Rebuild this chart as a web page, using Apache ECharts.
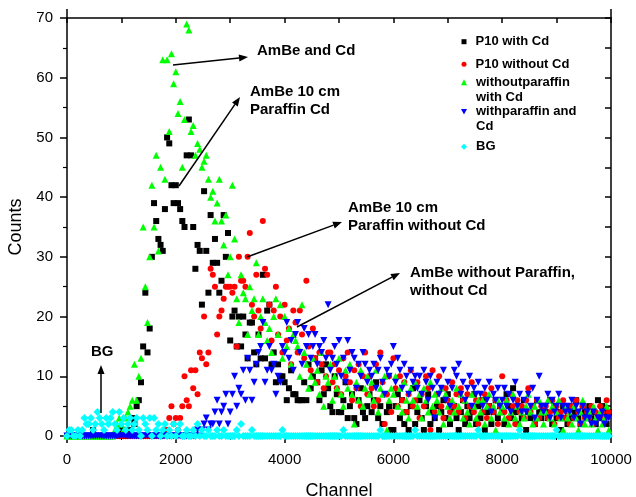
<!DOCTYPE html>
<html>
<head>
<meta charset="utf-8">
<script src="https://cdn.jsdelivr.net/npm/echarts@6/dist/echarts.min.js"></script>
<style>html,body{margin:0;padding:0;background:#fff;}#c{width:636px;height:497px;}</style>
</head>
<body>
<div id="c"></div>
<script>
// channel bin width of the spectra (channels 0, 40, 80, ... 9960)
const BIN = 40;
const xTicks = [0, 2000, 4000, 6000, 8000, 10000];
const yTicks = [0, 10, 20, 30, 40, 50, 60, 70];
const seriesNames = ['P10 with Cd', 'P10 without Cd', 'withoutparaffin\nwith Cd', 'withparaffin and\nCd', 'BG'];

const p10WithCd = [
 0,0,0,0,0,0,0,0,0,0, 0,0,1,0,0,0,0,0,0,0, 0,0,0,0,0,1,1,0,0,1, 3,2,5,6,9,15,24,14,18,30,
 39,36,33,32,31,38,50,49,42,39, 42,39,38,36,35,47,53,47,35,28, 32,31,22,41,31,24,37,29,33,29,
 24,26,37,30,34,16,20,21,15,20, 15,20,17,13,19,19,14,12,17,13, 27,13,21,22,12,14,9,12,10,10,
 9,6,8,11,7,7,6,6,6,9, 6,12,8,10,13,9,6,11,7,12, 8,5,4,10,7,4,4,6,9,3, 5,7,3,2,6,8,4,3,5,7,
 4,6,9,3,5,2,7,4,5,1, 1,5,7,3,6,2,4,1,5,8, 2,4,6,3,1,5,7,2,4,3, 5,1,4,6,3,7,2,4,5,3,
 1,4,6,2,5,3,4,7,2,5, 3,6,1,4,5,2,4,6,3,5, 4,2,7,5,3,8,4,2,5,3, 6,1,4,3,5,2,6,4,3,5,
 4,3,6,2,5,3,4,1,5,3, 2,5,3,4,6,3,2,5,4,3, 5,3,4,2,6,3,5,4,2,4
];
const p10WithoutCd = [
 0,0,0,0,0,0,0,0,0,0, 0,0,0,0,0,0,0,0,0,0, 0,0,0,0,0,0,0,0,0,0, 0,0,0,0,0,0,0,0,0,0,
 0,0,0,0,0,1,1,3,5,2, 3,1,3,5,10,6,5,11,8,11, 7,14,13,20,12,14,28,27,25,17,
 20,21,23,25,25,25,24,25,15,30, 26,26,25,30,34,22,20,27,21,18, 36,28,27,22,16,21,25,17,20,14,
 22,16,18,12,21,19,14,21,17,13, 26,15,11,18,13,9,14,12,8,10, 14,14,9,12,8,11,7,13,10,14,
 9,6,11,8,12,5,10,14,7,10, 8,5,12,6,14,9,2,7,10,4, 13,8,5,10,6,9,4,7,11,5,
 6,9,3,7,5,10,8,1,11,4, 7,10,5,3,8,6,4,9,5,7, 4,8,6,3,7,5,9,4,6,2, 6,4,7,3,5,8,4,6,2,5,
 10,4,6,3,7,5,2,6,4,5, 3,6,8,4,5,2,6,3,5,4, 5,3,4,6,2,5,3,4,6,3, 4,2,5,3,6,4,2,5,3,4,
 3,5,2,4,3,5,4,3,6,4
];
const noParaffinWithCd = [
 0,0,0,0,0,0,0,0,0,0, 0,0,0,0,0,0,0,0,0,0, 0,0,1,2,3,2,1,3,4,5, 6,12,6,10,13,35,25,19,30,42,
 35,47,31,45,63,43,63,51,64,59, 61,54,56,45,53,69,68,51,52,47, 49,48,45,46,47,43,40,41,36,39,
 43,36,32,37,27,30,42,33,23,19, 27,24,23,17,25,21,23,29,17,20, 23,19,16,18,14,20,23,17,22,13,
 20,15,18,12,17,16,15,10,22,14, 12,8,10,13,9,11,7,14,5,10, 9,12,6,10,8,13,7,5,11,8,
 12,7,2,9,6,11,5,8,10,7, 9,6,11,4,8,7,10,1,6,8, 7,10,5,8,4,9,6,3,8,6, 9,5,7,3,8,6,4,9,5,7,
 6,4,8,2,7,5,3,6,4,8, 5,7,3,6,4,2,7,5,3,6, 4,6,2,5,7,3,5,1,6,4, 5,3,6,2,4,7,3,5,2,4,
 3,5,7,4,2,5,3,6,4,2, 4,6,3,5,2,4,6,3,1,5, 3,4,2,5,3,1,4,6,2,3, 4,2,5,3,1,4,2,3,5,1
];
const paraffinWithCd = [
 0,0,0,0,0,0,0,0,0,0, 0,0,0,0,0,0,0,0,0,0, 0,0,0,0,0,0,0,0,0,0, 0,0,0,0,0,0,0,0,0,0,
 0,0,0,0,0,0,0,0,0,0, 0,0,0,0,0,0,0,0,0,0, 1,0,1,2,3,1,2,2,4,6,
 2,4,5,7,2,4,7,10,5,8, 7,11,6,13,11,6,9,12,14,15, 19,9,11,15,11,12,7,10,9,15,
 14,19,13,16,11,17,19,14,12,18, 15,17,13,15,17,12,15,14,16,13, 22,11,13,15,12,16,10,13,9,16,
 11,14,13,8,12,10,14,12,9,11, 10,12,8,11,13,9,7,11,10,12, 15,9,13,11,8,12,10,7,11,9,
 10,8,10,7,11,9,6,10,8,3, 9,7,8,11,6,9,5,8,11,10, 12,7,9,6,8,10,5,8,7,9, 7,5,8,6,9,4,7,6,8,5,
 6,8,5,7,4,6,9,5,7,4, 6,4,7,5,8,3,6,10,5,4, 5,7,3,6,4,5,7,3,5,4, 5,4,6,3,5,4,2,5,3,4,
 3,2,4,2,3,3,4,2,3,3
];
const background = [
 0,1,1,0,0,1,0,1,3,2, 2,3,1,2,4,3,2,1,3,2, 3,4,2,1,4,2,3,1,2,3, 1,2,3,1,0,3,2,1,3,0,
 3,1,2,0,1,2,0,1,0,2, 0,1,2,0,0,1,0,0,1,0, 2,0,1,0,0,1,0,0,0,1, 0,0,1,0,0,0,0,0,1,0,
 2,0,0,0,0,1,0,0,0,0, 0,0,0,0,0,0,0,0,0,1, 0,0,0,0,0,0,0,0,0,0, 0,0,0,0,0,0,0,0,0,0,
 0,0,0,0,0,0,0,1,0,0, 0,0,0,0,0,0,0,0,0,0, 0,0,0,0,1,0,0,0,0,0, 0,0,0,0,0,0,0,0,0,0,
 1,0,0,0,0,0,0,0,0,0, 0,0,0,0,0,0,0,0,0,0, 0,0,0,0,0,0,0,0,0,1, 0,0,0,0,0,0,0,0,0,0,
 0,0,0,0,0,0,0,0,1,0, 0,0,0,0,0,0,0,0,0,0, 0,0,0,0,0,1,0,0,0,0, 0,0,0,0,0,0,0,0,0,0,
 0,0,0,0,0,0,0,0,0,0
];

const FONT = '"Liberation Sans", Arial, sans-serif';
const toPairs = arr => arr.map((v, i) => [i * BIN, v]);

const styles = [
  {symbol: 'rect', size: 6, color: '#000000', rot: 0},
  {symbol: 'circle', size: 6, color: '#ff0000', rot: 0},
  {symbol: 'triangle', size: 7, color: '#00ff00', rot: 0},
  {symbol: 'triangle', size: 7, color: '#0000ff', rot: 180},
  {symbol: 'diamond', size: 8, color: '#00ffff', rot: 0}
];
const allData = [p10WithCd, p10WithoutCd, noParaffinWithCd, paraffinWithCd, background];

const series = allData.map((arr, k) => ({
  name: seriesNames[k],
  type: 'scatter',
  data: toPairs(arr),
  symbol: styles[k].symbol,
  symbolSize: styles[k].size,
  symbolRotate: styles[k].rot,
  itemStyle: {color: styles[k].color, opacity: 1},
  clip: false,
  silent: true,
  animation: false
}));

// legend: one component per entry
const legIcons = ['rect', 'circle', 'triangle', 'path://M0,0L10,0L5,9Z', 'diamond'];
const legSize = [5, 5, 6, 6, 6];
const legTop = [34.2, 56.8, 59.8, 89.2, 139.2];
const legend = seriesNames.map((n, k) => {
  const two = n.indexOf('\n') >= 0;
  return {
    data: [n], orient: 'vertical', left: 464 - legSize[k] / 2, top: legTop[k], padding: 0,
    icon: legIcons[k], itemWidth: legSize[k], itemHeight: legSize[k], selectedMode: false,
    itemStyle: {color: styles[k].color},
    formatter: nm => (two ? '\n' + nm : nm),
    textStyle: {fontFamily: FONT, fontWeight: 'bold', fontSize: 13, color: '#000', lineHeight: 15,
      padding: [0, 0, 0, 4]}
  };
});

// annotations (pixel layout)
const notes = [
  {text: 'AmBe and Cd', x: 257, y: 42},
  {text: 'AmBe 10 cm\nParaffin Cd', x: 250, y: 83},
  {text: 'AmBe 10 cm\nParaffin without Cd', x: 348, y: 199},
  {text: 'AmBe without Paraffin,\nwithout Cd', x: 410, y: 264},
  {text: 'BG', x: 91, y: 343}
];
const arrows = [
  [173, 65, 248, 57],
  [179, 186, 240, 97],
  [247, 257, 342, 222],
  [297, 327, 400, 273],
  [101, 413, 101, 365]
];
const graphic = [];
notes.forEach(n => graphic.push({type: 'text', x: n.x, y: n.y, z: 100,
  style: {text: n.text, font: 'bold 15px ' + FONT, fill: '#000', lineHeight: 18, verticalAlign: 'top'}}));
arrows.forEach(([x1, y1, x2, y2]) => {
  const a = Math.atan2(y2 - y1, x2 - x1), L = 9, W = 3.5;
  const bx = x2 - L * Math.cos(a), by = y2 - L * Math.sin(a);
  graphic.push({type: 'line', z: 100, shape: {x1, y1, x2: bx, y2: by}, style: {stroke: '#000', lineWidth: 1.5}});
  graphic.push({type: 'polygon', z: 100, shape: {points: [[x2, y2], [bx + W * Math.sin(a), by - W * Math.cos(a)], [bx - W * Math.sin(a), by + W * Math.cos(a)]]}, style: {fill: '#000'}});
});
// small axis extensions above the frame
[[67, 9, 67, 18], [611, 9, 611, 18]].forEach(([x1, y1, x2, y2]) =>
  graphic.push({type: 'line', z: 50, shape: {x1, y1, x2, y2}, style: {stroke: '#000', lineWidth: 1.5}}));

const axLine = {show: true, onZero: false, lineStyle: {color: '#000', width: 1.5}};
const option = {
  animation: false,
  backgroundColor: '#fff',
  grid: {left: 67, right: 25, top: 18, bottom: 61, containLabel: false, outerBoundsMode: 'none'},
  xAxis: [
    {type: 'value', position: 'bottom', min: xTicks[0], max: xTicks[xTicks.length - 1], interval: xTicks[1] - xTicks[0],
     axisLine: axLine, axisTick: {show: true, inside: false, length: 7, lineStyle: {color: '#000', width: 1.5}},
     minorTick: {show: true, splitNumber: 2, length: 4, lineStyle: {color: '#000', width: 1.2}},
     splitLine: {show: false}, minorSplitLine: {show: false},
     axisLabel: {fontFamily: FONT, fontSize: 15, color: '#000', margin: 16, formatter: v => String(v)},
     name: 'Channel', nameLocation: 'middle', nameGap: 46,
     nameTextStyle: {fontFamily: FONT, fontSize: 18, color: '#000'}},
    {type: 'value', position: 'top', min: 0, max: 10000, interval: 1000,
     axisLine: axLine, axisTick: {show: true, inside: true, length: 5, lineStyle: {color: '#000', width: 1.5}},
     axisLabel: {show: false}, splitLine: {show: false}}
  ],
  yAxis: [
    {type: 'value', position: 'left', min: yTicks[0], max: yTicks[yTicks.length - 1], interval: yTicks[1] - yTicks[0],
     axisLine: axLine, axisTick: {show: true, inside: false, length: 7, lineStyle: {color: '#000', width: 1.5}},
     minorTick: {show: true, splitNumber: 2, length: 4, lineStyle: {color: '#000', width: 1.2}},
     splitLine: {show: false}, minorSplitLine: {show: false},
     axisLabel: {fontFamily: FONT, fontSize: 15, color: '#000', margin: 14, formatter: v => String(v)},
     name: 'Counts', nameLocation: 'middle', nameGap: 34,
     nameTextStyle: {fontFamily: FONT, fontSize: 18, color: '#000'}},
    {type: 'value', position: 'right', min: 0, max: 70, interval: 5,
     axisLine: axLine, axisTick: {show: true, inside: true, length: 6, lineStyle: {color: '#000', width: 1.5}},
     axisLabel: {show: false}, splitLine: {show: false}}
  ],
  legend: legend,
  series: series,
  graphic: graphic
};
const chart = echarts.init(document.getElementById('c'), null, {renderer: 'canvas'});
chart.setOption(option);
</script>
</body>
</html>
